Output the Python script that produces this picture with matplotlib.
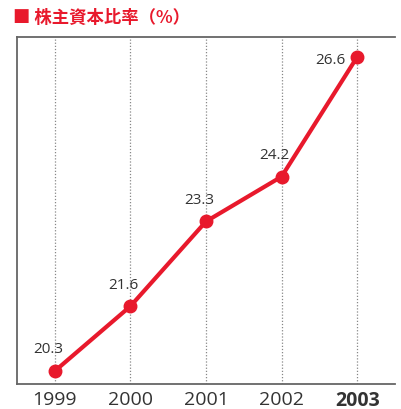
import matplotlib
matplotlib.use("Agg")
import matplotlib.pyplot as plt

plt.rcParams['font.family'] = ['Open Sans', 'Noto Sans CJK JP', 'DejaVu Sans']

years = [1999, 2000, 2001, 2002, 2003]
year_labels = ["1999", "2000", "2001", "2002", "2003"]
ratio = [20.3, 21.6, 23.3, 24.2, 26.6]
title = "■ 株主資本比率（%）"

red = "#e8192c"
grey = "#666666"
txt = "#333333"

fig = plt.figure(figsize=(4.01, 4.10), dpi=100)
ax = fig.add_axes([17/401, 1-385/410, (395-17)/401, (385-38)/410])

ax.plot(years, ratio, color=red, lw=3.0, marker="o", ms=9, zorder=3, solid_capstyle="round")

for x, y in zip(years, ratio):
    if x == 2003:
        ax.annotate(f"{y}", (x, y), xytext=(-19, -1.5), textcoords="offset points",
                    ha="center", va="center", fontsize=11, color=txt)
    else:
        ax.annotate(f"{y}", (x, y), xytext=(-5, 16), textcoords="offset points",
                    ha="center", va="center", fontsize=11, color=txt)

ax.set_xlim(1998.5, 2003.5)
ax.set_ylim(20.04, 27.0)
ax.set_xticks(years)
ax.set_xticklabels(year_labels, fontsize=14, color=txt)
ax.get_xticklabels()[-1].set_fontweight("bold")
ax.tick_params(axis="x", length=0, pad=4)
ax.set_yticks([])
ax.grid(axis="x", color="#888888", ls=(0, (1, 1.5)), lw=0.9)

for s in ["left", "bottom", "top"]:
    ax.spines[s].set_color(grey)
    ax.spines[s].set_linewidth(1.3)
ax.spines["right"].set_visible(False)

fig.text(13/401, 1-18/410, title, color=red, fontsize=12.5, fontweight="bold",
         family=['Noto Sans CJK JP', 'DejaVu Sans'], ha="left", va="center")

fig.savefig("out.png", dpi=100)
